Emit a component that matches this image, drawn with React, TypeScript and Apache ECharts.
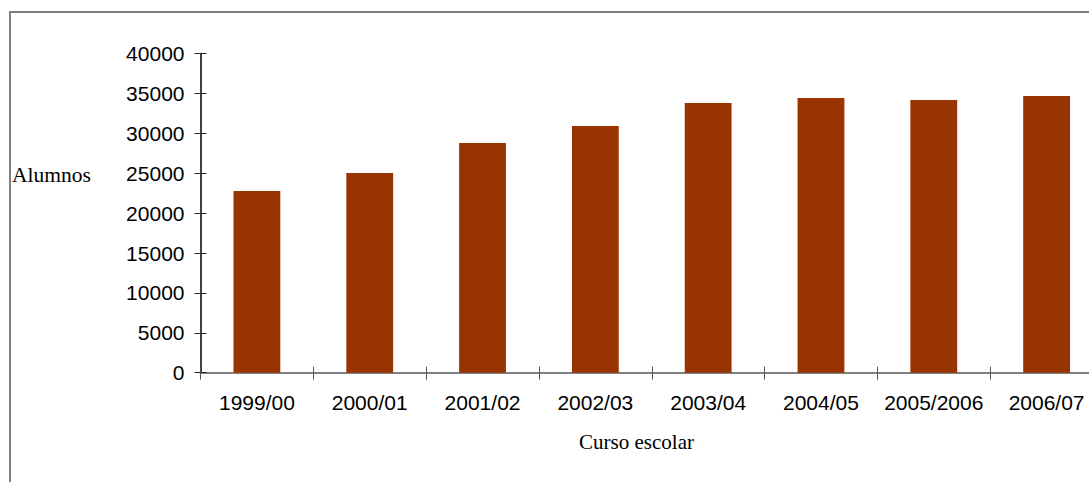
import React, { useEffect, useRef } from "react";
import * as echarts from "echarts";

// Enrolment per school year
const cursos = ["1999/00", "2000/01", "2001/02", "2002/03", "2003/04", "2004/05", "2005/2006", "2006/07"];
const alumnos = [22770, 25030, 28780, 30910, 33800, 34420, 34170, 34670];
const yMin = 0;
const yMax = 40000;
const yStep = 5000;

const sans = "'Liberation Sans', Arial, sans-serif";
const serif = "'Liberation Serif', 'Times New Roman', serif";

export default function App() {
  const ref = useRef<HTMLDivElement>(null);

  useEffect(() => {
    if (!ref.current) return;
    const chart = echarts.init(ref.current, undefined, { renderer: "svg" });
    const valueAxisBase = {
      type: "value" as const,
      min: yMin,
      max: yMax,
      interval: yStep,
      position: "left" as const,
      splitLine: { show: false },
    };
    const catAxisBase = {
      type: "category" as const,
      data: cursos,
      position: "bottom" as const,
      boundaryGap: true,
    };
    chart.setOption({
      animation: false,
      backgroundColor: "#ffffff",
      grid: { left: 200.5, top: 53.5, right: 7, bottom: 109.3, containLabel: false },
      xAxis: [
        {
          ...catAxisBase,
          axisLine: { show: true, lineStyle: { color: "#808080", width: 2 } },
          axisTick: { show: true, inside: false, length: 7, lineStyle: { color: "#555555" } },
          axisLabel: { color: "#000", fontFamily: sans, fontSize: 21, margin: 19, interval: 0 },
        },
        {
          ...catAxisBase,
          axisLine: { show: false },
          axisTick: { show: true, inside: true, length: 6, lineStyle: { color: "#555555" } },
          axisLabel: { show: false },
        },
      ],
      yAxis: [
        {
          ...valueAxisBase,
          axisLine: { show: true, lineStyle: { color: "#000000", width: 1.5 } },
          axisTick: { show: true, inside: false, length: 6, lineStyle: { color: "#222222" } },
          axisLabel: {
            color: "#000",
            fontFamily: sans,
            fontSize: 21,
            margin: 16,
            formatter: (v: number) => String(v),
          },
        },
        {
          ...valueAxisBase,
          axisLine: { show: false },
          axisTick: { show: true, inside: true, length: 6, lineStyle: { color: "#222222" } },
          axisLabel: { show: false },
        },
      ],
      series: [
        {
          type: "bar",
          data: alumnos,
          xAxisIndex: 0,
          yAxisIndex: 0,
          barWidth: "41.5%",
          itemStyle: { color: "#993300" },
        },
      ],
      graphic: [
        {
          type: "rect",
          shape: { x: 10, y: 12, width: 1200, height: 600 },
          style: { fill: "none", stroke: "#808080", lineWidth: 2 },
          silent: true,
        },
        {
          type: "text",
          x: 12,
          y: 175,
          style: {
            text: "Alumnos",
            font: `21.5px ${serif}`,
            fill: "#000",
            textAlign: "left",
            textVerticalAlign: "middle",
          },
        },
        {
          type: "text",
          x: 636.5,
          y: 442,
          style: {
            text: "Curso escolar",
            font: `21px ${serif}`,
            fill: "#000",
            textAlign: "center",
            textVerticalAlign: "middle",
          },
        },
      ],
    });
    return () => chart.dispose();
  }, []);

  return (
    <div style={{ position: "absolute", left: 0, top: 0, width: 1089, height: 482, overflow: "hidden", background: "#fff" }}>
      <div ref={ref} style={{ width: 1110, height: 482 }} />
    </div>
  );
}
